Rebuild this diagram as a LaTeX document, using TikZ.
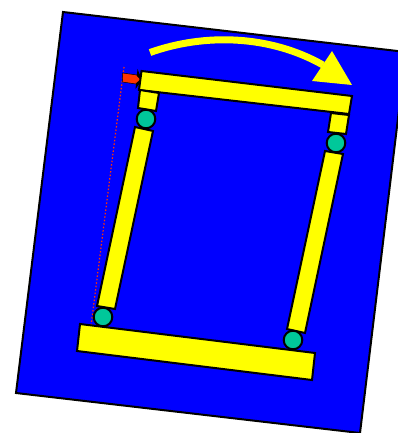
\documentclass[tikz,border=0pt]{standalone}
\usepackage{tikz}
\definecolor{cblue}{HTML}{0000FF}
\definecolor{cyellow}{HTML}{FFFF00}
\definecolor{cgreen}{HTML}{00C89A}
\definecolor{cred}{HTML}{FF3300}
\tikzset{
  linkbar/.style={fill=cyellow, draw=black, line width=2pt, line join=miter},
  pivot/.style={fill=cgreen, draw=black, line width=2pt}
}

\begin{document}
\begin{tikzpicture}[x=1pt, y=-1pt]
  \useasboundingbox (0,0) rectangle (398,433);
  \clip (0,0) rectangle (398,433);
  % Plate
  \fill[cblue, draw=black, line width=2pt] (63,12) -- (406,52) -- (360,433) -- (16,393) -- cycle;
  % Swing arrow
  \draw[cyellow, line width=7pt] (150,52.5) .. controls (205,33) and (270,35) .. (323,65);
  \fill[cyellow] (332,51) -- (352,85) -- (312,81) -- cycle;
  % Guide line
  \draw[cred, line width=1.2pt, dash pattern=on 1.5pt off 2pt] (124,67) -- (91,326);
  % Offset marker
  \fill[cred, draw=black, line width=0.5pt] (122.5,73) -- (137,75) -- (136,84) -- (122.5,82) -- cycle;
  \fill[black] (137.5,69) -- (142,80) -- (135.5,89) -- cycle;
  \fill[cred] (136,75.5) -- (140,79.5) -- (135.5,83.5) -- cycle;
  % Bars
  \draw[linkbar] (141.5,71) -- (352,96) -- (349,114) -- (139,90) -- cycle;
  \draw[linkbar] (80,324) -- (315,353) -- (312,380) -- (77,351) -- cycle;
  % Stubs and long links
  \draw[linkbar] (140,90) -- (159,93) -- (156,111) -- (138,108) -- cycle;
  \draw[linkbar] (331,113) -- (349,115) -- (346,134) -- (328,132) -- cycle;
  \draw[linkbar] (135,127) -- (153,131) -- (115,309) -- (97,306) -- cycle;
  \draw[linkbar] (325,151) -- (343,154) -- (305,333) -- (287,329) -- cycle;
  % Pivots
  \foreach \x/\y in {146/119, 336/143, 103/317, 293/340}{
    \draw[pivot] (\x,\y) circle (9.3);
  }
\end{tikzpicture}
\end{document}
